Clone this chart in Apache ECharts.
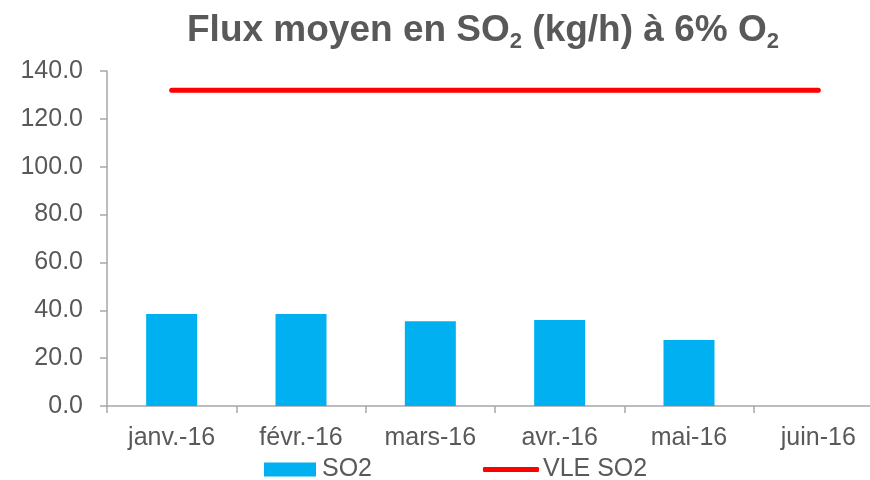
<!DOCTYPE html>
<html>
<head>
<meta charset="utf-8">
<script src="https://cdn.jsdelivr.net/npm/echarts@6/dist/echarts.min.js"></script>
<style>
    html, body { margin: 0; padding: 0; background: #fff; }
    #chart { width: 870px; height: 480px; }
</style>
</head>
<body>
<div id="chart"></div>
<script>
var categories = ['janv.-16', 'févr.-16', 'mars-16', 'avr.-16', 'mai-16', 'juin-16'];
var so2Values = [38.4, 38.4, 35.4, 35.9, 27.6, null];
var vleValues = [132, 132, 132, 132, 132, 132];
var yTicks = { min: 0, max: 140, interval: 20 };

var textColor = '#595959';
var axisColor = '#a6a6a6';
var font = '"Liberation Sans", Arial, sans-serif';

var chart = echarts.init(document.getElementById('chart'));
var option = {
    animation: false,
    title: {
        text: '{a|Flux moyen en SO}{s|2}{a| (kg/h) à 6% O}{s|2}',
        left: 182,
        top: 4,
        textStyle: {
            rich: {
                a: { fontFamily: font, fontWeight: 'bold', fontSize: 37, color: textColor, lineHeight: 44, verticalAlign: 'middle' },
                s: { fontFamily: font, fontWeight: 'bold', fontSize: 22, color: textColor, lineHeight: 22, verticalAlign: 'bottom' }
            }
        }
    },
    grid: {
        left: 107,
        top: 71,
        width: 776,
        height: 335,
        outerBoundsMode: 'none'
    },
    legend: [{
        data: [{ name: 'SO2', icon: 'rect' }],
        left: 264,
        top: 457,
        padding: 0,
        itemWidth: 52,
        itemHeight: 14,
        textStyle: { fontFamily: font, fontSize: 25, color: textColor, padding: [0, 0, 0, 1] }
    }, {
        data: [{ name: 'VLE SO2', icon: 'roundRect' }],
        left: 483,
        top: 457,
        padding: 0,
        itemWidth: 56,
        itemHeight: 5,
        textStyle: { fontFamily: font, fontSize: 25, color: textColor, padding: [0, 0, 0, -1] }
    }],
    xAxis: {
        type: 'category',
        data: categories,
        axisLine: { lineStyle: { color: axisColor, width: 1.5 } },
        axisTick: { show: true, length: 7, lineStyle: { color: axisColor, width: 1.5 } },
        axisLabel: { fontFamily: font, fontSize: 25, color: textColor, margin: 20 }
    },
    yAxis: {
        type: 'value',
        min: yTicks.min,
        max: yTicks.max,
        interval: yTicks.interval,
        splitLine: { show: false },
        axisLine: { show: true, lineStyle: { color: axisColor, width: 1.5 } },
        axisTick: { show: true, length: 7, lineStyle: { color: axisColor, width: 1.5 } },
        axisLabel: {
            fontFamily: font, fontSize: 25, color: textColor, margin: 24,
            formatter: function (v) { return v.toFixed(1); }
        }
    },
    series: [
        {
            name: 'SO2',
            type: 'bar',
            data: so2Values,
            barWidth: 51,
            itemStyle: { color: '#00b0f0' }
        },
        {
            name: 'VLE SO2',
            type: 'line',
            data: vleValues,
            symbol: 'none',
            lineStyle: { color: '#ff0000', width: 5, cap: 'round' },
            itemStyle: { color: '#ff0000' }
        }
    ]
};
chart.setOption(option);
</script>
</body>
</html>
